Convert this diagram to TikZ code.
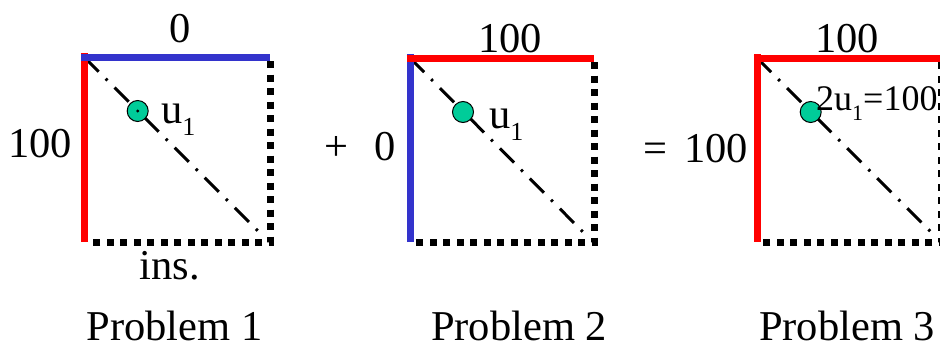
\documentclass[tikz,border=0pt]{standalone}
\usepackage{fontspec}
\setmainfont{Liberation Serif}
\definecolor{myred}{RGB}{255,0,0}
\definecolor{myblue}{RGB}{51,51,204}
\definecolor{myteal}{RGB}{0,204,153}
\newcommand{\usub}[1]{#1u\raisebox{-0.3em}{\fontsize{26}{26}\selectfont 1}}
\tikzset{
  lbl/.style={font=\fontsize{42.5}{42.5}\selectfont, inner sep=0pt},
  redline/.style={draw=myred, line width=7pt},
  blueline/.style={draw=myblue, line width=7pt},
  dotline/.style={draw=black, line width=7pt, dash pattern=on 7pt off 6.5pt},
  diagline/.style={draw=black, line width=3pt, dash pattern=on 20pt off 10pt on 2.5pt off 10pt},
  ball/.style={circle, draw=black, line width=1pt, fill=myteal, minimum size=21pt, inner sep=0pt},
}
\begin{document}
\begin{tikzpicture}[x=1pt,y=-1pt]
\useasboundingbox (0,0) rectangle (940,348);
% ---------- Problem 1
\coordinate (a1) at (84.5,57.5);
\coordinate (b1) at (270,57.5);
\coordinate (c1) at (270,242);
\coordinate (d1) at (84.5,242);
\draw[dotline] (270,61) -- (c1) -- (89,242);
\draw[diagline] (a1) -- (263,236);
\draw[redline] (84.5,53) -- (d1);
\draw[blueline] (81,57.5) -- (b1);
\node[ball] (ball1) at (137.7,111) {};
\fill (ball1.center) circle (1.6pt);
\node[lbl, anchor=base west] (u1) at (161,123) {\usub{}};
\node[lbl, anchor=base] (top1) at (180,42) {0};
\node[lbl, anchor=base] (left1) at (40,157) {100};
\node[lbl, anchor=base] (ins) at (170,279) {ins.};
\node[lbl, anchor=base] (p1) at (174.5,340) {Problem 1};
% ---------- Problem 2
\coordinate (a2) at (410,58);
\coordinate (b2) at (594,58);
\coordinate (c2) at (594,242);
\coordinate (d2) at (410,242);
\draw[dotline] (594,62) -- (c2) -- (415,242);
\draw[diagline] (a2) -- (587,236);
\draw[blueline] (d2) -- (410,54);
\draw[redline] (406.5,58) -- (b2);
\node[ball] (ball2) at (463,112) {};
\node[lbl, anchor=base west] (u2) at (489,128) {\usub{}};
\node[lbl, anchor=base] (plus) at (336,160) {+};
\node[lbl, anchor=base] (left2) at (385,160) {0};
\node[lbl, anchor=base] (top2) at (510,52) {100};
\node[lbl, anchor=base] (p2) at (519,340) {Problem 2};
% ---------- Problem 3
\coordinate (a3) at (757,58);
\coordinate (b3) at (945,58);
\coordinate (c3) at (941,242);
\coordinate (d3) at (757,242);
\draw[dotline] (941,62) -- (c3) -- (762,242);
\draw[diagline] (a3) -- (935,236);
\draw[redline] (757,54) -- (d3);
\draw[redline] (753.5,58) -- (b3);
\node[ball] (ball3) at (810.7,112) {};
\node[lbl, anchor=base west, font=\fontsize{36}{36}\selectfont] (u3) at (816,110) {2u\raisebox{-0.3em}{\fontsize{22}{22}\selectfont 1}=100};
\node[lbl, anchor=base] (eq) at (655,162) {=};
\node[lbl, anchor=base] (left3) at (716,162) {100};
\node[lbl, anchor=base] (top3) at (847,52) {100};
\node[lbl, anchor=base] (p3) at (847,340) {Problem 3};
\end{tikzpicture}
\end{document}
